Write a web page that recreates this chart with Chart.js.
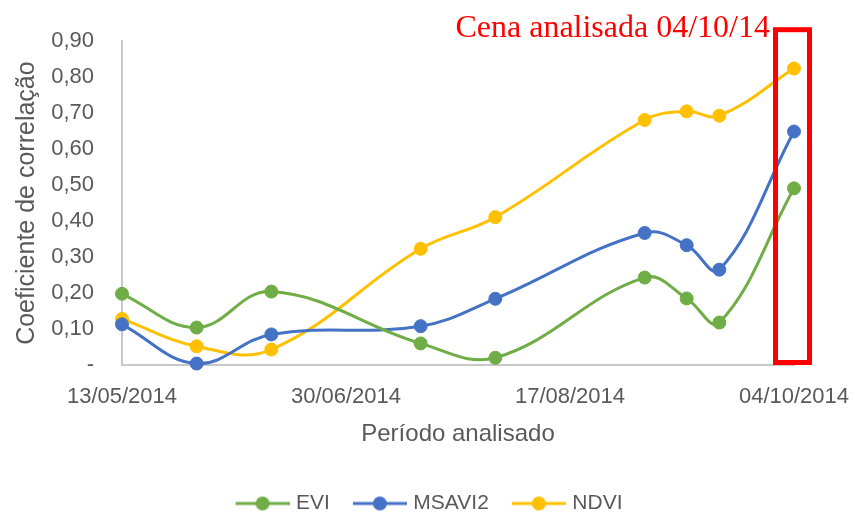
<!DOCTYPE html>
<html>
<head>
<meta charset="utf-8">
<script src="https://cdn.jsdelivr.net/npm/chart.js@4"></script>
<style>
  html, body { margin: 0; padding: 0; background: #fff; }
  #wrap { width: 855px; height: 518px; }
</style>
</head>
<body>
<div id="wrap"><canvas id="chart" width="855" height="518"></canvas></div>
<script>
// datas das cenas e coeficientes de correlação
const datas = ["13/05/2014", "29/05/2014", "14/06/2014", "16/07/2014", "01/08/2014",
  "02/09/2014", "11/09/2014", "18/09/2014", "04/10/2014"];
const evi = [0.198, 0.104, 0.204, 0.060, 0.020, 0.243, 0.185, 0.118, 0.491];
const msavi2 = [0.113, 0.004, 0.085, 0.108, 0.184, 0.367, 0.333, 0.265, 0.649];
const ndvi = [0.128, 0.052, 0.043, 0.323, 0.411, 0.681, 0.705, 0.693, 0.824];
const xTicks = ["13/05/2014", "30/06/2014", "17/08/2014", "04/10/2014"];
const yTicks = [0, 0.1, 0.2, 0.3, 0.4, 0.5, 0.6, 0.7, 0.8, 0.9];
const cenaAnalisada = "04/10/2014";

const DIA = 86400000;
function parseData(s) {
  const p = s.split("/");
  return Date.UTC(+p[2], +p[1] - 1, +p[0]);
}
const t0 = parseData(datas[0]);
const dias = (s) => Math.round((parseData(s) - t0) / DIA);
function fmtData(d) {
  const dt = new Date(t0 + d * DIA);
  const dd = String(dt.getUTCDate()).padStart(2, "0");
  const mm = String(dt.getUTCMonth() + 1).padStart(2, "0");
  return dd + "/" + mm + "/" + dt.getUTCFullYear();
}
const pontos = (vals) => vals.map((v, i) => ({ x: dias(datas[i]), y: v }));

const fonte = "'Liberation Sans', Arial, sans-serif";
const cinza = "#595959";

// marcador da legenda: linha com círculo
function marcador(cor) {
  const c = document.createElement("canvas");
  const m = 17;
  c.width = 54 + m;
  c.height = 16;
  const g = c.getContext("2d");
  g.strokeStyle = cor;
  g.lineWidth = 3;
  g.beginPath();
  g.moveTo(m, 8);
  g.lineTo(m + 54, 8);
  g.stroke();
  g.fillStyle = cor;
  g.beginPath();
  g.arc(m + 27, 8, 7, 0, Math.PI * 2);
  g.fill();
  return c;
}

const series = [
  { label: "EVI", data: evi, cor: "#70AD47" },
  { label: "MSAVI2", data: msavi2, cor: "#4472C4" },
  { label: "NDVI", data: ndvi, cor: "#FFC000" },
];

// caixa vermelha e texto da cena analisada
const destaque = {
  id: "destaque",
  afterLayout(chart) {
    const lg = chart.legend;
    const w = lg.right - lg.left;
    const h = lg.bottom - lg.top;
    lg.left = 422.5 - w / 2;
    lg.right = lg.left + w;
    lg.top = 483;
    lg.bottom = lg.top + h;
  },
  afterDatasetsDraw(chart) {
    const ctx = chart.ctx;
    const xs = chart.scales.x;
    const ys = chart.scales.y;
    const xp = xs.getPixelForValue(dias(cenaAnalisada));
    const top = chart.chartArea.top - 11.5;
    const bottom = ys.getPixelForValue(0) - 2.5;
    ctx.save();
    ctx.strokeStyle = "#FF0000";
    ctx.lineWidth = 5;
    ctx.strokeRect(xp - 18.5, top, 34, bottom - top);
    ctx.fillStyle = "#FF0000";
    ctx.font = "32px 'Liberation Serif', 'Times New Roman', serif";
    ctx.textAlign = "right";
    ctx.textBaseline = "alphabetic";
    ctx.fillText("Cena analisada 04/10/14", xp - 24, 37);
    ctx.restore();
  },
};

new Chart(document.getElementById("chart"), {
  type: "line",
  data: {
    datasets: series.map((s) => ({
      label: s.label,
      data: pontos(s.data),
      borderColor: s.cor,
      backgroundColor: s.cor,
      pointBackgroundColor: s.cor,
      pointBorderColor: s.cor,
      pointStyle: "circle",
      borderWidth: 3,
      pointRadius: 6.5,
      pointBorderWidth: 1,
      tension: 0.4,
      clip: false,
    })),
  },
  options: {
    responsive: false,
    animation: false,
    layout: { padding: { top: 41, right: 61, left: 0, bottom: 28 } },
    plugins: {
      tooltip: { enabled: false },
      legend: {
        position: "bottom",
        labels: {
          usePointStyle: true,
          pointStyleWidth: 63,
          padding: 10,
          color: cinza,
          font: { family: fonte, size: 21 },
          generateLabels(chart) {
            return chart.data.datasets.map((ds, i) => ({
              text: ds.label,
              fillStyle: ds.borderColor,
              strokeStyle: ds.borderColor,
              pointStyle: marcador(ds.borderColor),
              fontColor: cinza,
              lineWidth: 0,
              hidden: false,
              datasetIndex: i,
            }));
          },
        },
      },
    },
    scales: {
      x: {
        type: "linear",
        min: 0,
        max: dias(xTicks[xTicks.length - 1]),
        grid: { display: false, drawTicks: false },
        border: { display: true, color: "#C8C8C8", width: 2 },
        afterBuildTicks(scale) {
          scale.ticks = xTicks.map((s) => ({ value: dias(s) }));
        },
        ticks: {
          color: cinza,
          padding: 0,
          maxRotation: 0,
          autoSkip: false,
          font: { family: fonte, size: 22, lineHeight: 63 / 22 },
          callback: (v) => fmtData(v),
        },
        title: {
          display: true,
          text: "Período analisado",
          color: cinza,
          padding: 0,
          font: { family: fonte, size: 24 },
        },
        afterFit(scale) {
          scale.height = 84;
        },
      },
      y: {
        min: 0,
        max: 0.9,
        grid: { display: false, drawTicks: false },
        border: { display: true, color: "#C8C8C8", width: 2 },
        afterBuildTicks(scale) {
          scale.ticks = yTicks.map((v) => ({ value: v }));
        },
        ticks: {
          color: cinza,
          padding: 28,
          font: { family: fonte, size: 22 },
          callback: (v) => (v === 0 ? "-" : v.toFixed(2).replace(".", ",")),
        },
        title: {
          display: true,
          text: "Coeficiente de correlação",
          color: cinza,
          padding: { top: 12, bottom: 0 },
          font: { family: fonte, size: 25 },
        },
        afterFit(scale) {
          scale.width = 122;
        },
      },
    },
  },
  plugins: [destaque],
});
</script>
</body>
</html>
